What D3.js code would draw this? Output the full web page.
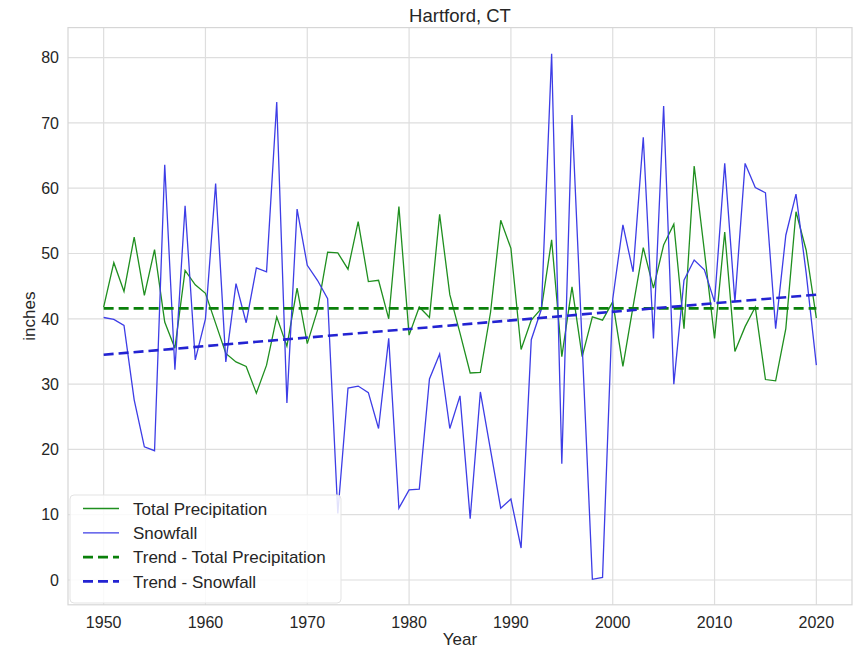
<!DOCTYPE html>
<html>
<head>
<meta charset="utf-8">
<script src="https://cdn.jsdelivr.net/npm/d3@7"></script>
<style>
  html, body { margin: 0; padding: 0; background: #fff; }
  #chart { width: 856px; height: 649px; }
  text { font-family: "Liberation Sans", Arial, sans-serif; fill: #262626; }
</style>
</head>
<body>
<div id="chart"></div>
<script>
'use strict';

var years = d3.range(1950, 2021);

var precipitation = [
  41.8, 48.6, 44.2, 52.5, 43.6, 50.6, 39.5, 35.5, 47.4, 45.2,
  43.9, 39.3, 34.7, 33.4, 32.7, 28.6, 32.9, 40.3, 35.8, 44.7,
  36.2, 41.3, 50.2, 50.1, 47.6, 54.9, 45.7, 45.9, 40.0, 57.2,
  37.5, 41.8, 40.2, 56.0, 43.7, 37.8, 31.7, 31.8, 41.0, 55.1,
  50.8, 35.3, 39.8, 41.6, 52.1, 34.2, 44.9, 34.2, 40.3, 39.8,
  42.6, 32.7, 41.9, 50.9, 44.7, 51.3, 54.5, 38.5, 63.4, 50.4,
  37.0, 53.3, 35.0, 38.8, 41.8, 30.7, 30.5, 38.5, 56.4, 50.5,
  40.1
];

var snowfall = [
  40.2, 39.9, 39.0, 27.6, 20.4, 19.8, 63.6, 32.2, 57.3, 33.7,
  40.0, 60.7, 33.4, 45.4, 39.4, 47.8, 47.2, 73.2, 27.1, 56.8,
  48.2, 45.9, 43.1, 10.2, 29.4, 29.7, 28.7, 23.2, 37.0, 11.0,
  13.8, 13.9, 30.8, 34.6, 23.2, 28.2, 9.4, 28.8, 19.9, 11.0,
  12.4, 4.9, 36.8, 41.5, 80.6, 17.8, 71.2, 36.0, 0.1, 0.4,
  43.0, 54.4, 47.2, 67.8, 37.0, 72.6, 30.0, 45.9, 49.0, 47.5,
  42.6, 63.8, 42.6, 63.8, 60.1, 59.3, 38.5, 52.8, 59.1, 47.0,
  32.9
];

// trend lines, start and end
var trendYears = [1950, 2020];
var trendPrecipitation = [41.6, 41.6];
var trendSnowfall = [34.5, 43.7];

var xTicks = [1950, 1960, 1970, 1980, 1990, 2000, 2010, 2020];
var yTicks = [0, 10, 20, 30, 40, 50, 60, 70, 80];

var series = [
  { name: 'Total Precipitation', x: years, y: precipitation, color: '#1f8f1f', width: 1.3, dash: null },
  { name: 'Snowfall', x: years, y: snowfall, color: '#3d3de6', width: 1.3, dash: null },
  { name: 'Trend - Total Precipitation', x: trendYears, y: trendPrecipitation, color: '#0a800a', width: 2.6, dash: '10,5' },
  { name: 'Trend - Snowfall', x: trendYears, y: trendSnowfall, color: '#2323d2', width: 2.6, dash: '10,5' }
];

var width = 856, height = 649;
var margin = { top: 27.6, right: 4, bottom: 44.2, left: 68 };

var svg = d3.select('#chart').append('svg')
    .attr('width', width)
    .attr('height', height);

var x = d3.scaleLinear()
    .domain([1946.5, 2023.5])
    .range([margin.left, width - margin.right]);

var y = d3.scaleLinear()
    .domain([-3.8, 84.6])
    .range([height - margin.bottom, margin.top]);

var gridColor = '#dedede';

// grid
svg.append('g')
  .selectAll('line')
  .data(xTicks)
  .join('line')
    .attr('x1', d => x(d)).attr('x2', d => x(d))
    .attr('y1', margin.top).attr('y2', height - margin.bottom)
    .attr('stroke', gridColor)
    .attr('stroke-width', 1.2);

svg.append('g')
  .selectAll('line')
  .data(yTicks)
  .join('line')
    .attr('x1', margin.left).attr('x2', width - margin.right)
    .attr('y1', d => y(d)).attr('y2', d => y(d))
    .attr('stroke', gridColor)
    .attr('stroke-width', 1.2);

// frame
svg.append('rect')
    .attr('x', margin.left)
    .attr('y', margin.top)
    .attr('width', width - margin.left - margin.right)
    .attr('height', height - margin.top - margin.bottom)
    .attr('fill', 'none')
    .attr('stroke', '#d6d6d6')
    .attr('stroke-width', 1.2);

// tick labels
svg.append('g')
    .style('font-size', '16px')
    .attr('text-anchor', 'middle')
  .selectAll('text')
  .data(xTicks)
  .join('text')
    .attr('x', d => x(d))
    .attr('y', 628)
    .text(d => d);

svg.append('g')
    .style('font-size', '16px')
    .attr('text-anchor', 'end')
  .selectAll('text')
  .data(yTicks)
  .join('text')
    .attr('x', 59)
    .attr('y', d => y(d))
    .attr('dy', '0.36em')
    .text(d => d);

// lines
var line = d3.line();

svg.append('g')
  .selectAll('path')
  .data(series)
  .join('path')
    .attr('d', s => line(s.x.map((v, i) => [x(v), y(s.y[i])])))
    .attr('fill', 'none')
    .attr('stroke', s => s.color)
    .attr('stroke-width', s => s.width)
    .attr('stroke-dasharray', s => s.dash)
    .attr('stroke-linejoin', 'miter');

// title and axis labels
svg.append('text')
    .attr('x', (margin.left + width - margin.right) / 2)
    .attr('y', 22)
    .attr('text-anchor', 'middle')
    .style('font-size', '18.5px')
    .text('Hartford, CT');

svg.append('text')
    .attr('x', (margin.left + width - margin.right) / 2)
    .attr('y', 645)
    .attr('text-anchor', 'middle')
    .style('font-size', '17px')
    .text('Year');

svg.append('text')
    .attr('transform', 'translate(35,' + ((margin.top + height - margin.bottom) / 2) + ') rotate(-90)')
    .attr('text-anchor', 'middle')
    .style('font-size', '17px')
    .text('inches');

// legend
var legend = svg.append('g');
var rowY = 508.5, rowStep = 24.3;

legend.append('rect')
    .attr('x', 70)
    .attr('y', 495)
    .attr('width', 271)
    .attr('height', 108)
    .attr('rx', 4)
    .attr('fill', '#fff')
    .attr('fill-opacity', 0.85)
    .attr('stroke', '#e3e3e3');

var item = legend.selectAll('g')
  .data(series)
  .join('g')
    .attr('transform', (d, i) => 'translate(0,' + (rowY + i * rowStep) + ')');

item.append('line')
    .attr('x1', 83).attr('x2', 119)
    .attr('stroke', d => d.color)
    .attr('stroke-width', d => d.width)
    .attr('stroke-dasharray', d => d.dash);

item.append('text')
    .attr('x', 133)
    .attr('dy', '0.36em')
    .style('font-size', '17px')
    .text(d => d.name);
</script>
</body>
</html>
